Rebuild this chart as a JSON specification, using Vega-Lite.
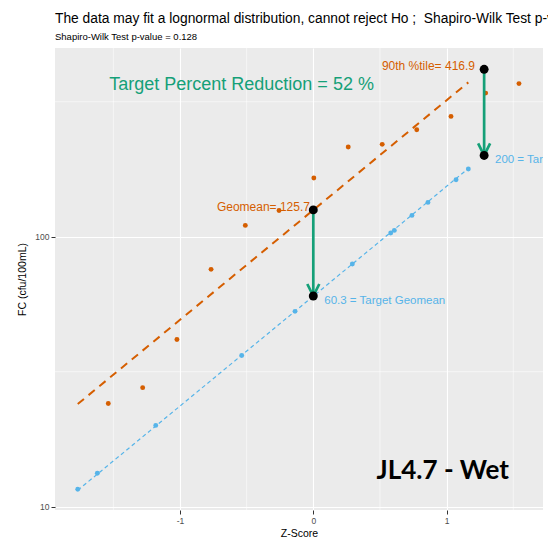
{
  "$schema": "https://vega.github.io/schema/vega-lite/v6.json",
  "autosize": {"type": "none"},
  "padding": {"left": 55, "top": 48, "right": 5, "bottom": 32},
  "width": 488,
  "height": 462,
  "background": "white",
  "title": {
    "text": "The data may fit a lognormal distribution, cannot reject Ho ;\u00a0 Shapiro-Wilk Test p-value = 0.128",
    "subtitle": "Shapiro-Wilk Test p-value = 0.128",
    "anchor": "start",
    "frame": "group",
    "font": "Liberation Sans",
    "fontSize": 13.8,
    "fontWeight": "normal",
    "color": "black",
    "subtitleFont": "Liberation Sans",
    "subtitleFontSize": 9.5,
    "subtitleColor": "black",
    "subtitlePadding": 6,
    "offset": 6
  },
  "config": {
    "view": {"fill": "#EBEBEB", "stroke": null},
    "axis": {
      "domain": false,
      "grid": true,
      "gridColor": "white",
      "gridWidth": 1.1,
      "tickColor": "#333333",
      "tickSize": 4,
      "tickWidth": 1,
      "labelColor": "#4D4D4D",
      "labelFont": "Liberation Sans",
      "labelFontSize": 8.5,
      "labelPadding": 2,
      "titleFont": "Liberation Sans",
      "titleFontSize": 10.5,
      "titleFontWeight": "normal",
      "titleColor": "black"
    }
  },
  "datasets": {
    "obs": [
      {"z": -1.538, "fc": 24.1},
      {"z": -1.280, "fc": 27.6},
      {"z": -1.023, "fc": 41.6},
      {"z": -0.767, "fc": 75.7},
      {"z": -0.510, "fc": 110.1},
      {"z": -0.257, "fc": 125.1},
      {"z": 0.004, "fc": 165},
      {"z": 0.262, "fc": 214.8},
      {"z": 0.517, "fc": 219.8},
      {"z": 0.776, "fc": 248.9},
      {"z": 1.033, "fc": 279},
      {"z": 1.293, "fc": 340.4},
      {"z": 1.543, "fc": 369}
    ],
    "target": [
      {"z": -1.767, "fc": 11.6},
      {"z": -1.620, "fc": 13.3},
      {"z": -1.182, "fc": 20.0},
      {"z": -0.537, "fc": 36.3},
      {"z": -0.137, "fc": 52.9},
      {"z": 0.293, "fc": 79.2},
      {"z": 0.581, "fc": 103.2},
      {"z": 0.608, "fc": 105.5},
      {"z": 0.740, "fc": 119.9},
      {"z": 0.860, "fc": 134},
      {"z": 1.071, "fc": 162.6},
      {"z": 1.163, "fc": 178.1}
    ],
    "fits": [
      {"series": "observed", "z": -1.767, "fc": 24.0},
      {"series": "observed", "z": 1.163, "fc": 373},
      {"series": "target", "z": -1.767, "fc": 11.5},
      {"series": "target", "z": 1.163, "fc": 179}
    ],
    "keys": [
      {"z": 0, "fc": 125.7},
      {"z": 0, "fc": 60.3},
      {"z": 1.2816, "fc": 416.9},
      {"z": 1.2816, "fc": 200}
    ],
    "arrows": [
      {"z": 0, "top": 125.7, "bot": 60.3},
      {"z": 1.2816, "top": 416.9, "bot": 200}
    ],
    "minorx": [{"v": -1.5}, {"v": -0.5}, {"v": 0.5}, {"v": 1.5}],
    "minory": [{"v": 31.62}, {"v": 316.2}]
  },
  "encoding": {
    "x": {
      "field": "z", "type": "quantitative",
      "scale": {"domain": [-1.9377, 1.7232], "nice": false, "zero": false},
      "axis": {"title": "Z-Score", "values": [-1, 0, 1], "labelExpr": "toString(datum.value)", "titlePadding": 4}
    },
    "y": {
      "field": "fc", "type": "quantitative",
      "scale": {"type": "log", "domain": [9.72, 500], "nice": false, "zero": false},
      "axis": {"title": "FC (cfu/100mL)", "values": [10, 100], "labelExpr": "toString(datum.value)", "titlePadding": 7}
    }
  },
  "layer": [
    {
      "data": {"name": "minorx"},
      "mark": {"type": "rule", "color": "white", "strokeWidth": 0.55},
      "encoding": {"x": {"field": "v", "type": "quantitative"}, "y": null}
    },
    {
      "data": {"name": "minory"},
      "mark": {"type": "rule", "color": "white", "strokeWidth": 0.55},
      "encoding": {"y": {"field": "v", "type": "quantitative"}, "x": null}
    },
    {
      "data": {"name": "fits"},
      "transform": [{"filter": "datum.series == 'observed'"}],
      "mark": {"type": "line", "color": "#D55E00", "strokeWidth": 2, "strokeDash": [8, 6]}
    },
    {
      "data": {"name": "fits"},
      "transform": [{"filter": "datum.series == 'target'"}],
      "mark": {"type": "line", "color": "#56B4E9", "strokeWidth": 1.2, "strokeDash": [4, 3]}
    },
    {
      "data": {"name": "obs"},
      "mark": {"type": "circle", "color": "#D55E00", "opacity": 1, "size": 24}
    },
    {
      "data": {"name": "target"},
      "mark": {"type": "circle", "color": "#56B4E9", "opacity": 1, "size": 24}
    },
    {
      "data": {"name": "arrows"},
      "mark": {"type": "rule", "color": "#15A078", "strokeWidth": 2.7},
      "encoding": {
        "y": {"field": "top", "type": "quantitative"},
        "y2": {"field": "bot"}
      }
    },
    {
      "data": {"name": "arrows"},
      "mark": {"type": "point", "shape": "M-0.5,-1L0,0L0.5,-1", "filled": false, "stroke": "#15A078", "strokeWidth": 2.7, "size": 576, "opacity": 1, "strokeCap": "butt"},
      "encoding": {"y": {"field": "bot", "type": "quantitative"}}
    },
    {
      "data": {"name": "keys"},
      "mark": {"type": "circle", "color": "black", "opacity": 1, "size": 80}
    },
    {
      "data": {"values": [{"z": -0.538, "fc": 365, "t": "Target Percent Reduction = 52 %"}]},
      "mark": {"type": "text", "align": "center", "baseline": "middle", "font": "Liberation Sans", "fontSize": 18, "color": "#15A078"},
      "encoding": {"text": {"field": "t"}}
    },
    {
      "data": {"values": [{"z": -0.025, "fc": 129, "t": "Geomean= 125.7"}, {"z": 1.213, "fc": 430, "t": "90th %tile= 416.9"}]},
      "mark": {"type": "text", "align": "right", "baseline": "middle", "font": "Liberation Sans", "fontSize": 12, "color": "#D55E00"},
      "encoding": {"text": {"field": "t"}}
    },
    {
      "data": {"values": [{"z": 1.363, "fc": 192.7, "t": "200 = Target 90th %tile"}, {"z": 0.0825, "fc": 57.9, "t": "60.3 = Target Geomean"}]},
      "mark": {"type": "text", "align": "left", "baseline": "middle", "font": "Liberation Sans", "fontSize": 11.5, "color": "#56B4E9", "clip": true},
      "encoding": {"text": {"field": "t"}}
    },
    {
      "data": {"values": [{"z": 0.971, "fc": 13.5, "t": "JL4.7 - Wet"}]},
      "mark": {"type": "text", "align": "center", "baseline": "middle", "font": "Lato", "fontWeight": "bold", "fontSize": 26, "color": "black"},
      "encoding": {"text": {"field": "t"}}
    }
  ]
}
